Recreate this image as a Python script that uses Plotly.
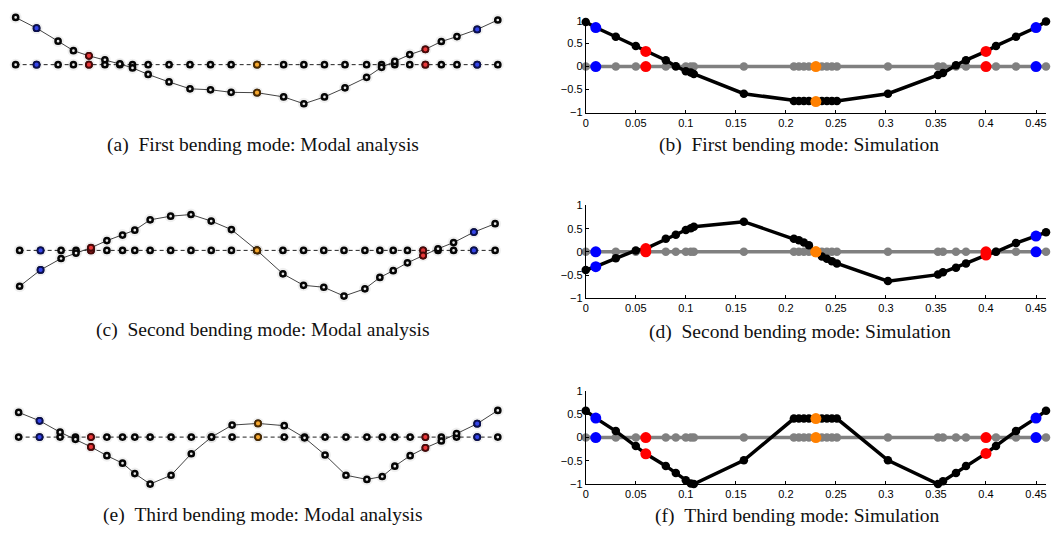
import plotly.graph_objects as go

# ---------------- Simulation data (right column) ----------------
sim_x = [0, 0.01, 0.03, 0.05, 0.06, 0.08, 0.09, 0.10, 0.105, 0.108,
         0.158, 0.208, 0.213, 0.218, 0.223, 0.23, 0.236, 0.241, 0.246, 0.251,
         0.302, 0.352, 0.357, 0.37, 0.38, 0.40, 0.41, 0.43, 0.45, 0.46]
sim_mode1 = [0.97, 0.85, 0.65, 0.45, 0.33, 0.14, 0.01, -0.10, -0.13, -0.16,
             -0.59, -0.75, -0.75, -0.75, -0.75, -0.76, -0.75, -0.75, -0.75, -0.75,
             -0.59, -0.18, -0.14, 0.03, 0.14, 0.33, 0.45, 0.65, 0.85, 0.98]
sim_mode2 = [-0.39, -0.32, -0.14, 0.03, 0.07, 0.28, 0.37, 0.47, 0.51, 0.54,
             0.65, 0.28, 0.25, 0.20, 0.14, 0.0, -0.10, -0.15, -0.20, -0.25,
             -0.63, -0.49, -0.44, -0.34, -0.25, -0.07, 0.0, 0.19, 0.34, 0.42]
sim_mode3 = [0.58, 0.42, 0.14, -0.18, -0.35, -0.61, -0.76, -0.92, -0.99, -1.0,
             -0.49, 0.41, 0.41, 0.41, 0.41, 0.41, 0.41, 0.41, 0.41, 0.41,
             -0.49, -1.0, -0.94, -0.76, -0.61, -0.34, -0.18, 0.14, 0.42, 0.58]
sensor_x = [0.01, 0.06, 0.23, 0.40, 0.45]
sensor_colors = ["#0000ff", "#ff0000", "#ff8000", "#ff0000", "#0000ff"]

x_ticks = [0, 0.05, 0.1, 0.15, 0.2, 0.25, 0.3, 0.35, 0.4, 0.45]
y_ticks = [-1, -0.5, 0, 0.5, 1]

# ---------------- Modal analysis data (left column, image units) ----------------
modal_x_a = [12.7, 33.7, 55.3, 70.7, 86.3, 102.3, 117.3, 130, 145.7, 166.7, 187.7, 208.3, 229, 255,
             281.7, 302, 322.7, 343.3, 365, 380, 393.3, 408.3, 424, 440, 455.7, 476, 496.7]
modal_d_a = [48.3, 37.3, 24, 14.3, 9, 5, 0.7, -3.3, -10, -17.7, -24.7, -25.7, -28.3, -28.7,
             -33, -40, -33, -23.7, -13, -2.7, 3.3, 10.3, 15.7, 23.7, 28.7, 36, 45.7]
modal_x_c = [16.7, 37.7, 58.3, 73.3, 88.3, 104.3, 120, 132.3, 147.7, 168.3, 188.7, 209, 229.3, 255,
             281, 301.7, 322, 342.3, 363.3, 378.3, 391.7, 406, 421.7, 436.7, 452.3, 472.7, 494]
modal_d_c = [-36.7, -20, -8.3, -2.7, 2.7, 10, 15.7, 20.7, 31.3, 35, 36.7, 30, 21.3, 0,
             -24, -35.7, -37.7, -46.7, -39.3, -27.7, -20.7, -12.7, -5.3, 1.7, 8, 18.7, 27.3]
modal_x_e = [15.7, 36.7, 57.3, 72.7, 88.3, 104.3, 120, 132.3, 147.7, 168.7, 189, 209.3, 230, 256,
             282.3, 302.7, 323.3, 344.3, 365.3, 380.7, 393.3, 408.7, 424, 440, 455.3, 476, 496.7]
modal_d_e = [25.3, 16.7, 5, -2.3, -10, -19, -26.7, -37.3, -48, -39, -17, 0, 12.3, 14,
             11.7, -0.7, -18.3, -39, -43.3, -40.3, -29.7, -19, -11, -4, 3.7, 13.7, 27.3]
modal_sensor_idx = [1, 4, 13, 22, 25]
modal_fill = ["#3545e8", "#e8383a", "#f5a830", "#e8383a", "#3545e8"]
modal_edge = ["#0a0f50", "#4a0808", "#4a2a00", "#4a0808", "#0a0f50"]

captions = ["(a)\u00a0\u00a0First bending mode: Modal analysis", "(b)\u00a0\u00a0First bending mode: Simulation",
            "(c)\u00a0\u00a0Second bending mode: Modal analysis", "(d)\u00a0\u00a0Second bending mode: Simulation",
            "(e)\u00a0\u00a0Third bending mode: Modal analysis", "(f)\u00a0\u00a0Third bending mode: Simulation"]

W, H = 1052, 535
fig = go.Figure()

def py(px):
    return 1 - px / H

# Left panels: (zero line page y, page y top, page y bottom)
left_rows = [(60, 0, 125, modal_x_a, modal_d_a),
             (250, 190, 310, modal_x_c, modal_d_c),
             (441, 380, 500, modal_x_e, modal_d_e)]
# Right panels: page y of value 1 and -1
right_rows = [(15, 109, sim_mode1), (204, 299, sim_mode2), (394, 489, sim_mode3)]

layout_axes = {}
for r in range(3):
    zero, top, bot, mx, md = left_rows[r]
    li = 2 * r + 1
    ri = 2 * r + 2
    xa_l = "x" if li == 1 else f"x{li}"
    ya_l = "y" if li == 1 else f"y{li}"
    xa_r = f"x{ri}"
    ya_r = f"y{ri}"

    # ----- left: modal analysis picture -----
    zeros = [0] * len(mx)
    fig.add_trace(go.Scatter(x=mx, y=zeros, mode="lines",
                             line=dict(color="#222", width=1, dash="4px,3px"),
                             xaxis=xa_l, yaxis=ya_l, showlegend=False, hoverinfo="skip"))
    fig.add_trace(go.Scatter(x=mx, y=md, mode="lines",
                             line=dict(color="#444", width=1),
                             xaxis=xa_l, yaxis=ya_l, showlegend=False, hoverinfo="skip"))
    for yy in (zeros, md):
        fig.add_trace(go.Scatter(x=mx, y=yy, mode="markers",
                                 marker=dict(size=12, color="rgba(0,0,0,0.06)", line=dict(width=0)),
                                 xaxis=xa_l, yaxis=ya_l, showlegend=False, hoverinfo="skip",
                                 cliponaxis=False))
        fig.add_trace(go.Scatter(x=mx, y=yy, mode="markers",
                                 marker=dict(size=5.2, color="#e6e6e6", line=dict(color="#050505", width=2.5)),
                                 xaxis=xa_l, yaxis=ya_l, showlegend=False, cliponaxis=False))
        fig.add_trace(go.Scatter(x=[mx[i] for i in modal_sensor_idx],
                                 y=[yy[i] for i in modal_sensor_idx], mode="markers",
                                 marker=dict(size=6, color=modal_fill,
                                             line=dict(color=modal_edge, width=1.8)),
                                 xaxis=xa_l, yaxis=ya_l, showlegend=False, cliponaxis=False))
    layout_axes["xaxis" if li == 1 else f"xaxis{li}"] = dict(
        domain=[0, 526 / W], range=[0, 526], visible=False, anchor=ya_l)
    layout_axes["yaxis" if li == 1 else f"yaxis{li}"] = dict(
        domain=[py(bot), py(top)], range=[zero - bot, zero - top], visible=False, anchor=xa_l)

    # ----- right: simulation -----
    ptop, pbot, mode = right_rows[r]
    fig.add_trace(go.Scatter(x=sim_x, y=[0] * len(sim_x), mode="lines+markers",
                             line=dict(color="#808080", width=3.5),
                             marker=dict(size=8.5, color="#808080"),
                             xaxis=xa_r, yaxis=ya_r, showlegend=False, cliponaxis=False))
    fig.add_trace(go.Scatter(x=sim_x, y=mode, mode="lines+markers",
                             line=dict(color="#000000", width=3.5),
                             marker=dict(size=8.5, color="#000000"),
                             xaxis=xa_r, yaxis=ya_r, showlegend=False, cliponaxis=False))
    sy = [mode[sim_x.index(s)] for s in sensor_x]
    fig.add_trace(go.Scatter(x=sensor_x + sensor_x, y=[0] * len(sensor_x) + sy, mode="markers",
                             marker=dict(size=11, color=sensor_colors + sensor_colors),
                             xaxis=xa_r, yaxis=ya_r, showlegend=False, cliponaxis=False))
    layout_axes[f"xaxis{ri}"] = dict(
        domain=[585 / W, 1047 / W], range=[0, 0.46], anchor=ya_r,
        tickvals=x_ticks, ticktext=[("%g" % v) for v in x_ticks],
        ticks="inside", ticklen=3, tickcolor="black", showline=True, linecolor="black",
        linewidth=1, showgrid=False, zeroline=False,
        tickfont=dict(family="Liberation Sans, Arial", size=11, color="black"))
    layout_axes[f"yaxis{ri}"] = dict(
        domain=[py(pbot), py(ptop)], range=[-1, 1], anchor=xa_r,
        tickvals=y_ticks, ticktext=["\u22121", "\u22120.5", "0", "0.5", "1"],
        ticks="inside", ticklen=3, tickcolor="black", showline=True, linecolor="black",
        linewidth=1, showgrid=False, zeroline=False,
        tickfont=dict(family="Liberation Sans, Arial", size=11, color="black"))

cap_pos = [(261, 142), (799, 142), (261, 331), (800, 333), (261, 521), (798, 522)]
annotations = []
for txt, (cx, cy) in zip(captions, cap_pos):
    annotations.append(dict(text=txt, x=cx / W, y=py(cy), xref="paper", yref="paper",
                            xanchor="center", yanchor="middle", showarrow=False,
                            font=dict(family="Liberation Serif, Times New Roman", size=19.5, color="#111")))

fig.update_layout(width=W, height=H, margin=dict(l=0, r=0, t=0, b=0),
                  paper_bgcolor="white", plot_bgcolor="white",
                  annotations=annotations, **layout_axes)
fig.write_html("out.html", config={"displayModeBar": False},
               post_script="document.body.style.margin='0';document.body.style.padding='0';")
